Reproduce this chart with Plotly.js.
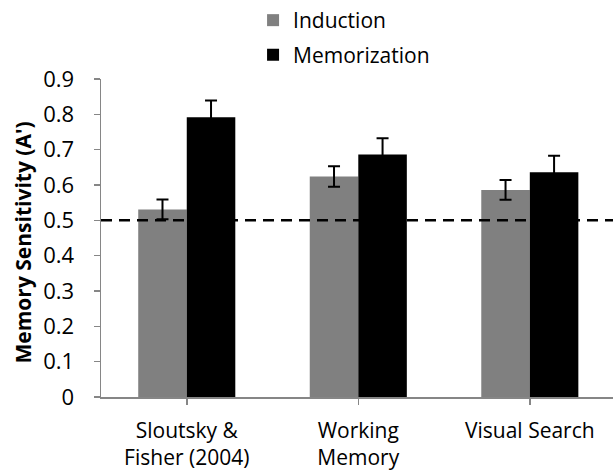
<!DOCTYPE html>
<html>
<head>
<meta charset="utf-8">
<script src="https://cdn.plot.ly/plotly-3.0.1.min.js"></script>
<style>html,body{margin:0;padding:0;background:#fff;}#chart{width:613px;height:476px;}</style>
</head>
<body>
<div id="chart"></div>
<script>
const categories = ["Sloutsky &<br>Fisher (2004)", "Working<br>Memory", "Visual Search"];
const seriesNames = ["Induction", "Memorization"];
const inductionValues = [0.531, 0.624, 0.586];
const inductionErrors = [0.028, 0.029, 0.028];
const memorizationValues = [0.792, 0.686, 0.636];
const memorizationErrors = [0.047, 0.046, 0.047];
const chanceLevel = 0.5;
const yTickValues = [0, 0.1, 0.2, 0.3, 0.4, 0.5, 0.6, 0.7, 0.8, 0.9];
const yTickLabels = ["0", "0.1", "0.2", "0.3", "0.4", "0.5", "0.6", "0.7", "0.8", "0.9"];
const yTitle = "Memory Sensitivity (A')";

const FONT = "'Open Sans', 'Noto Sans', sans-serif";
const xIdx = categories.map((_, i) => i);

const traces = [
  {
    type: "bar", name: seriesNames[0], x: xIdx, y: inductionValues,
    marker: {color: "#808080", line: {width: 0}},
    error_y: {type: "data", array: inductionErrors, visible: true, color: "#000", thickness: 2, width: 6},
    legend: "legend"
  },
  {
    type: "bar", name: seriesNames[1], x: xIdx, y: memorizationValues,
    marker: {color: "#000000", line: {width: 0}},
    error_y: {type: "data", array: memorizationErrors, visible: true, color: "#000", thickness: 2, width: 6},
    legend: "legend2"
  }
];

const layout = {
  width: 613, height: 476,
  margin: {l: 101, r: 0, t: 79, b: 79, pad: 0},
  paper_bgcolor: "#fff", plot_bgcolor: "#fff",
  font: {family: FONT, size: 22, color: "#000"},
  barmode: "group", bargap: 0.434, bargroupgap: 0,
  showlegend: true,
  legend: {x: 0.297, xanchor: "left", y: 1.1855, yanchor: "middle", font: {family: FONT, size: 21}, bgcolor: "rgba(0,0,0,0)"},
  legend2: {x: 0.297, xanchor: "left", y: 1.0755, yanchor: "middle", font: {family: FONT, size: 21}, bgcolor: "rgba(0,0,0,0)"},
  xaxis: {
    range: [-0.5, 2.485], tickmode: "array", tickvals: xIdx, ticktext: categories,
    tickson: "boundaries", ticks: "outside", ticklen: 6, tickcolor: "#868686", tickwidth: 1.5,
    showline: true, linecolor: "#868686", linewidth: 1.5, showgrid: false, zeroline: false,
    tickfont: {family: FONT, size: 21}, ticklabelstandoff: 8, fixedrange: true
  },
  yaxis: {
    range: [0, 0.9], tickmode: "array", tickvals: yTickValues, ticktext: yTickLabels,
    ticks: "outside", ticklen: 6, tickcolor: "#868686", tickwidth: 1.5,
    showline: true, linecolor: "#868686", linewidth: 1.5, showgrid: false, zeroline: false,
    tickfont: {family: FONT, size: 22}, ticklabelstandoff: 15,
    automargin: false, fixedrange: true
  },
  annotations: [{
    text: yTitle, textangle: -90, xref: "paper", yref: "paper",
    x: -0.1523, y: 0.486, xanchor: "center", yanchor: "middle", showarrow: false,
    font: {family: FONT, size: 21, weight: "bold", color: "#000"}
  }],
  shapes: [{
    type: "line", xref: "paper", x0: 0, x1: 1, yref: "y", y0: chanceLevel, y1: chanceLevel,
    line: {color: "#000", width: 2.5, dash: "11px,7px"}, layer: "above"
  }]
};

Plotly.newPlot("chart", traces, layout, {displayModeBar: false, staticPlot: true});
</script>
</body>
</html>
